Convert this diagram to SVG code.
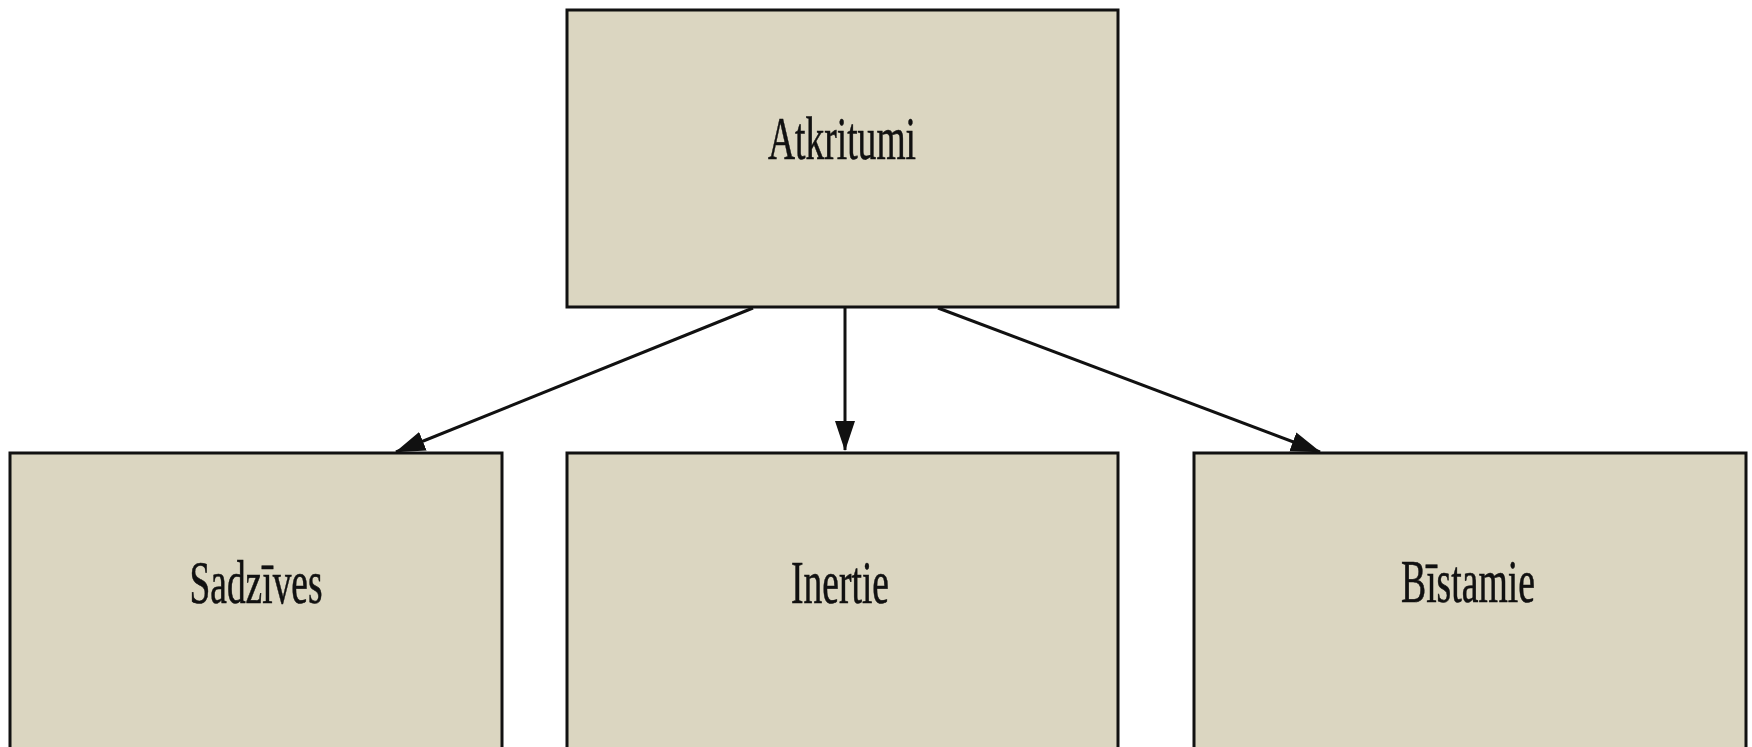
<svg xmlns="http://www.w3.org/2000/svg" width="1752" height="747" viewBox="0 0 1752 747">
<style>
.box{fill:#DBD6C1;stroke:#111;stroke-width:3}
.lbl{font-family:"Liberation Serif","Times New Roman",serif;font-size:62px;fill:#111;stroke:#111;stroke-width:0.6;text-anchor:middle}
.con{stroke:#111;stroke-width:3;fill:none;marker-end:url(#ah)}
</style>
<defs>
<marker id="ah" markerUnits="userSpaceOnUse" markerWidth="32" markerHeight="22" refX="29" refY="10" orient="auto" viewBox="0 0 32 20">
<path d="M0,0 L30,10 L0,20 Z" fill="#111"/>
</marker>
</defs>
<rect width="1752" height="747" fill="#fff"/>
<g id="atkritumi">
<rect class="box" x="567" y="10" width="551" height="297"/>
<text class="lbl" x="842" y="159" textLength="148" lengthAdjust="spacingAndGlyphs">Atkritumi</text>
</g>
<g id="sadzives">
<rect class="box" x="10" y="453" width="492" height="310"/>
<text class="lbl" x="256" y="603" textLength="133" lengthAdjust="spacingAndGlyphs">Sadzīves</text>
</g>
<g id="inertie">
<rect class="box" x="567" y="453" width="551" height="310"/>
<text class="lbl" x="840" y="603" textLength="98" lengthAdjust="spacingAndGlyphs">Inertie</text>
</g>
<g id="bistamie">
<rect class="box" x="1194" y="453" width="552" height="310"/>
<text class="lbl" x="1468" y="602" textLength="134" lengthAdjust="spacingAndGlyphs">Bīstamie</text>
</g>
<g id="connectors">
<line class="con" x1="753" y1="308" x2="396" y2="452"/>
<line class="con" x1="845" y1="308" x2="845" y2="450"/>
<line class="con" x1="938" y1="308" x2="1320" y2="452"/>
</g>
</svg>
